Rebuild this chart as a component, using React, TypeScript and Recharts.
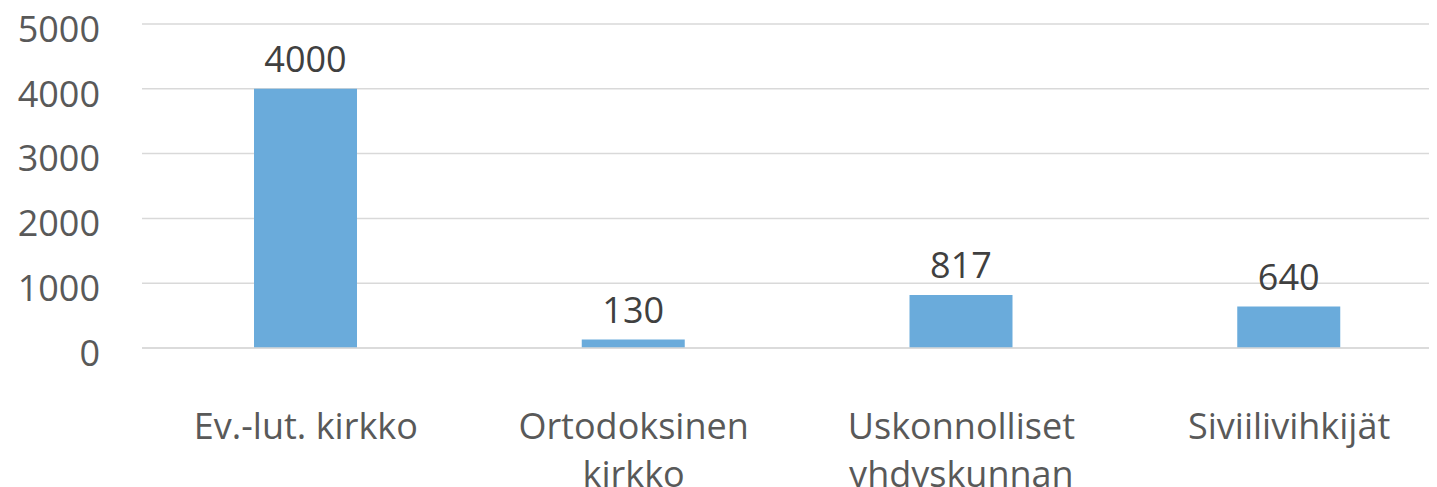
import React from "react";
import { BarChart, Bar, XAxis, YAxis, CartesianGrid, LabelList } from "recharts";

const categories = ["Ev.-lut. kirkko", "Ortodoksinen kirkko", "Uskonnolliset yhdyskunnan", "Siviilivihkijät"];
const values = [4000, 130, 817, 640];
const yTicks = [0, 1000, 2000, 3000, 4000, 5000];

const data = categories.map((c, i) => ({ name: c, value: values[i] }));

const FONT = "'Open Sans', sans-serif";

const wrap = (s: string): string[] => {
  if (s.length <= 16) return [s];
  const idx = s.lastIndexOf(" ");
  return idx > 0 ? [s.slice(0, idx), s.slice(idx + 1)] : [s];
};

const XTick = (props: any) => {
  const { x, y, payload } = props;
  const lines = wrap(String(payload.value));
  return (
    <text x={x} y={y} textAnchor="middle" fill="#595959" fontFamily={FONT} fontSize={36}>
      {lines.map((l, i) => (
        <tspan key={i} x={x} y={y + 83 + i * 48}>
          {l}
        </tspan>
      ))}
    </text>
  );
};

const YTick = (props: any) => {
  const { x, y, payload } = props;
  return (
    <text x={x} y={y + 5} dy="0.355em" textAnchor="end" fill="#595959" fontFamily={FONT} fontSize={36}>
      {payload.value}
    </text>
  );
};

export default function App() {
  return (
    <div style={{ width: 1429, height: 479, overflow: "hidden" }}>
      <BarChart
        width={1450}
        height={479}
        data={data}
        margin={{ top: 16, right: 5, bottom: 0, left: 0 }}
      >
        <CartesianGrid vertical={false} stroke="#D9D9D9" strokeWidth={1.5} />
        <XAxis
          dataKey="name"
          axisLine={{ stroke: "#D9D9D9", strokeWidth: 1.5 }}
          tickLine={false}
          height={139}
          interval={0}
          tick={<XTick />}
        />
        <YAxis
          domain={[0, 5000]}
          ticks={yTicks}
          width={134}
          axisLine={false}
          tickLine={false}
          tickSize={0}
          tickMargin={42}
          tick={<YTick />}
        />
        <Bar dataKey="value" fill="#6AABDB" barSize={103} isAnimationActive={false}>
          <LabelList
            dataKey="value"
            position="top"
            offset={17}
            fill="#404040"
            fontFamily={FONT}
            fontSize={36}
          />
        </Bar>
      </BarChart>
    </div>
  );
}
